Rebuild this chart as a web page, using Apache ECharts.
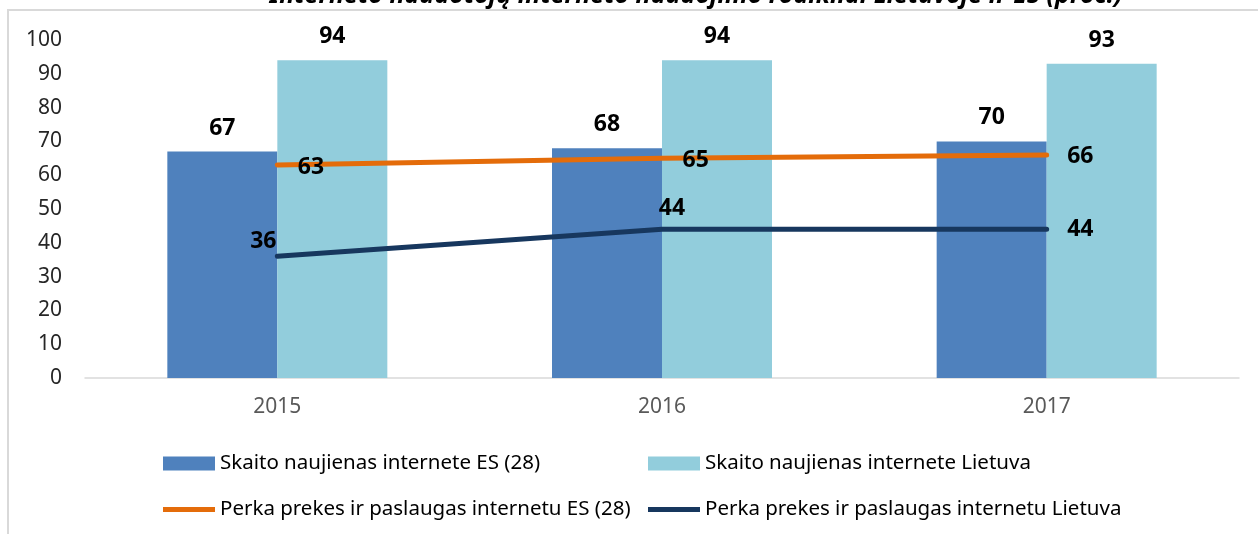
<!DOCTYPE html>
<html>
<head>
    <meta charset="UTF-8">
    <title></title>
    <style type="text/css">
        html, body { margin: 0; padding: 0; background: #fff; }
        #mychart { width: 1258px; height: 534px; }
    </style>
</head>
<body>
<div id="mychart"></div>
<script src="https://cdn.jsdelivr.net/npm/echarts@6/dist/echarts.min.js"></script>
<script>
    var years = ['2015', '2016', '2017'];
    var skaitoES = [67, 68, 70];
    var skaitoLT = [94, 94, 93];
    var perkaES = [63, 65, 66];
    var perkaLT = [36, 44, 44];
    var titleText = 'Interneto naudotojų interneto naudojimo rodikliai Lietuvoje ir ES (proc.)';

    var font = '"Noto Sans", sans-serif';
    var valLabel = {
        show: true,
        fontFamily: font,
        fontSize: 23,
        fontWeight: 'bold',
        color: '#000'
    };
    // line icon for the legend (M points keep the 14px box)
    var lineIcon = 'path://M0,0 M0,4.5 L52,4.5 L52,9.5 L0,9.5 Z M52,14';

    // per-point label placement as in the original
    var perkaLTData = perkaLT.map(function (v, i) {
        var lab = [
            {position: 'top', distance: 3, offset: [-14, 0]},
            {position: 'top', distance: 9, offset: [10, 0]},
            {position: 'right', distance: 20, offset: [0, 0]}
        ][i];
        return {value: v, label: lab};
    });

    var mychart = echarts.init(document.getElementById('mychart'));
    mychart.setOption({
        backgroundColor: '#fff',
        animation: false,
        textStyle: {fontFamily: font},
        graphic: [
            {
                type: 'rect',
                shape: {x: 8, y: 10, width: 1300, height: 600},
                style: {fill: 'none', stroke: '#d9d9d9', lineWidth: 2},
                silent: true
            },
            {
                type: 'text',
                x: 696, y: 8,
                style: {
                    text: titleText,
                    fontFamily: font,
                    fontSize: 25,
                    fontWeight: 'bold',
                    fontStyle: 'italic',
                    fill: '#000',
                    align: 'center',
                    verticalAlign: 'bottom'
                },
                silent: true
            }
        ],
        grid: {left: 85, right: 19, top: 40, bottom: 156},
        legend: [
            {
                left: 163, top: 453,
                orient: 'vertical',
                padding: 0,
                itemWidth: 52, itemHeight: 14, itemGap: 25,
                textStyle: {fontFamily: font, fontSize: 20.5, color: '#000'},
                data: [
                    {name: 'Skaito naujienas internete ES (28)', icon: 'rect'},
                    {name: 'Perka prekes ir paslaugas internetu ES (28)', icon: lineIcon}
                ]
            },
            {
                left: 648, top: 453,
                orient: 'vertical',
                padding: 0,
                itemWidth: 52, itemHeight: 14, itemGap: 25,
                textStyle: {fontFamily: font, fontSize: 20.5, color: '#000'},
                data: [
                    {name: 'Skaito naujienas internete Lietuva', icon: 'rect'},
                    {name: 'Perka prekes ir paslaugas internetu Lietuva', icon: lineIcon}
                ]
            }
        ],
        xAxis: {
            type: 'category',
            data: years,
            axisLine: {lineStyle: {color: '#d9d9d9', width: 1.5}},
            axisTick: {show: false},
            axisLabel: {color: '#595959', fontSize: 21, margin: 19, fontFamily: font}
        },
        yAxis: {
            type: 'value',
            min: 0, max: 100, interval: 10,
            splitLine: {show: false},
            axisLine: {show: false},
            axisTick: {show: false},
            axisLabel: {color: '#262626', fontSize: 21, margin: 23, fontFamily: font}
        },
        series: [
            {
                name: 'Skaito naujienas internete ES (28)',
                type: 'bar',
                data: skaitoES,
                barWidth: 110,
                barGap: '0%',
                itemStyle: {color: '#4f81bd'},
                label: Object.assign({position: 'top', distance: 12}, valLabel)
            },
            {
                name: 'Skaito naujienas internete Lietuva',
                type: 'bar',
                data: skaitoLT,
                barWidth: 110,
                barGap: '0%',
                itemStyle: {color: '#92cddc'},
                label: Object.assign({position: 'top', distance: 12}, valLabel)
            },
            {
                name: 'Perka prekes ir paslaugas internetu ES (28)',
                type: 'line',
                data: perkaES,
                symbol: 'circle',
                symbolSize: 1,
                lineStyle: {color: '#e46c0a', width: 5, cap: 'round'},
                itemStyle: {color: '#e46c0a'},
                label: Object.assign({position: 'right', distance: 20, offset: [0, 2]}, valLabel),
                z: 5
            },
            {
                name: 'Perka prekes ir paslaugas internetu Lietuva',
                type: 'line',
                data: perkaLTData,
                symbol: 'circle',
                symbolSize: 1,
                lineStyle: {color: '#17375e', width: 5, cap: 'round'},
                itemStyle: {color: '#17375e'},
                label: valLabel,
                z: 5
            }
        ]
    });
</script>
</body>
</html>
